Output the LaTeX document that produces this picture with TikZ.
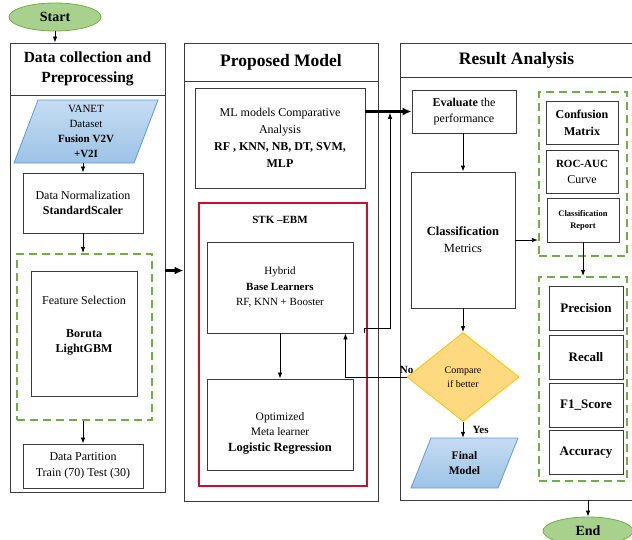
\documentclass[tikz,border=0pt]{standalone}
\usepackage{fontspec}
\setmainfont{Liberation Serif}
\usetikzlibrary{shapes.geometric,arrows.meta}

\definecolor{boxline}{HTML}{3A3A3A}
\definecolor{grnfill}{HTML}{A9D18E}
\definecolor{grnline}{HTML}{70AD47}
\definecolor{bluefill}{HTML}{9DC3E6}
\definecolor{bluelite}{HTML}{C5DCF2}
\definecolor{blueline}{HTML}{5B9BD5}
\definecolor{orgfill}{HTML}{FFD97F}
\definecolor{orgline}{HTML}{FFC000}
\definecolor{stkred}{HTML}{C8102E}

\begin{document}
\begin{tikzpicture}[x=1pt,y=-1pt,
    box/.style={draw=boxline,line width=0.9pt,align=center,inner sep=2pt},
    panel/.style={draw=boxline,line width=0.9pt,align=center},
    grp/.style={draw=grnline,line width=2.2pt,dash pattern=on 8pt off 5pt},
    oval/.style={ellipse,draw=grnline,fill=grnfill,line width=0.8pt,font=\fontsize{14}{16}\selectfont\bfseries},
    arr/.style={-{Latex[length=6pt,width=4.5pt]},line width=0.8pt},
    bigarr/.style={-{Latex[length=9pt,width=8pt]},line width=2.6pt},
    f12/.style={font=\fontsize{12}{15.5}\selectfont}]
                \useasboundingbox (0,0) rectangle (632,539);

                % 开始
                \node[oval,minimum width=92pt,minimum height=28pt] (start) at (55,17) {Start};

                % 第一列
                \node[panel,minimum width=155pt,minimum height=52pt,font=\fontsize{15.5}{20}\selectfont\bfseries] (colAt) at (87.5,69) {Data collection and\\Preprocessing};
                \node[panel,minimum width=155pt,minimum height=397pt] (colA) at (87.5,293.5) {};
                \shadedraw[top color=bluelite,bottom color=bluefill,draw=blueline,line width=0.8pt] (38,100) -- (158,100) -- (134,163) -- (14,163) -- cycle;
                \node[align=center,font=\fontsize{11}{15}\selectfont,minimum height=63pt] (data) at (86,131.5) {VANET\\Dataset\\\textbf{Fusion V2V}\\\textbf{+V2I}};
                \node[box,f12,minimum width=120pt,minimum height=60pt] (norm) at (83,203) {Data Normalization\\\textbf{StandardScaler}};
                \node[grp,minimum width=135pt,minimum height=166pt] (fsgrp) at (84.5,337) {};
                \node[box,minimum width=106pt,minimum height=125pt] (fs) at (84,333.5) {};
                \node[align=center,f12] (fstext) at (84,326) {Feature Selection\\[17pt]\textbf{Boruta}\\\textbf{LightGBM}};
                \node[box,f12,minimum width=120pt,minimum height=44pt] (part) at (83,466) {Data Partition\\Train (70) Test (30)};

                \draw[arr] (start.south) -- (start.south |- colAt.north);
                \draw[arr] (norm.north |- data.south) -- (norm.north);
                \draw[arr] (norm.south) -- (norm.south |- fsgrp.north);
                \draw[arr] (part.north |- fsgrp.south) -- (part.north);

                % 第二列
                \node[panel,minimum width=194pt,minimum height=38pt,font=\fontsize{17.5}{20}\selectfont\bfseries] (colBt) at (281,62) {Proposed Model};
                \node[panel,minimum width=194pt,minimum height=420pt] (colB) at (281,291) {};
                \node[box,font=\fontsize{12}{17}\selectfont,minimum width=170pt,minimum height=100pt] (ml) at (280,138) {ML models Comparative\\Analysis\\\textbf{RF , KNN, NB, DT, SVM,}\\\textbf{MLP}};
                \node[draw=stkred,line width=2pt,minimum width=168pt,minimum height=283pt] (stk) at (283,344.5) {};
                \node[font=\fontsize{11}{13}\selectfont\bfseries] (stkt) at (280,220) {STK --EBM};
                \node[box,font=\fontsize{11}{15.5}\selectfont,minimum width=146pt,minimum height=91pt] (base) at (280,287.5) {Hybrid\\\textbf{Base Learners}\\RF, KNN + Booster};
                \node[box,minimum width=146pt,minimum height=91pt] (meta) at (280,424.5) {};
                \node[align=center,font=\fontsize{11.5}{15.5}\selectfont] (metatext) at (280,433) {Optimized\\Meta learner\\\textbf{\fontsize{12.5}{15.5}\selectfont Logistic Regression}};

                \draw[bigarr] (fs.north -| colA.east) -- (fs.north -| colB.west);
                \draw[arr] (base.south) -- (meta.north);

                % 第三列
                \node[panel,minimum width=233pt,minimum height=34pt,font=\fontsize{17.5}{20}\selectfont\bfseries] (colCt) at (516.5,60) {Result Analysis};
                \node[panel,minimum width=233pt,minimum height=423pt] (colC) at (516.5,288.5) {};
                \node[box,f12,minimum width=104pt,minimum height=43pt] (eval) at (464,111.5) {\textbf{Evaluate} the\\performance};
                \node[box,font=\fontsize{12.5}{17}\selectfont,minimum width=104pt,minimum height=136pt] (cls) at (463,240) {\textbf{Classification}\\Metrics};

                \node[grp,minimum width=88pt,minimum height=164pt] (grp1) at (583,174) {};
                \node[box,font=\fontsize{12}{17}\selectfont\bfseries,minimum width=72pt,minimum height=43pt] (cm) at (582,122.5) {Confusion\\Matrix};
                \node[box,font=\fontsize{12}{16}\selectfont,minimum width=72pt,minimum height=43pt] (roc) at (582,171.5) {{\fontsize{11}{16}\selectfont\textbf{ROC-AUC}}\\Curve};
                \node[box,font=\fontsize{8.5}{12}\selectfont\bfseries,minimum width=72pt,minimum height=44pt] (rep) at (583,220) {Classification\\Report};

                \node[grp,minimum width=88pt,minimum height=204pt] (grp2) at (583,379) {};
                \foreach \y/\name/\txt in {308/prec/Precision, 357/rec/Recall, 405/fone/F1\_Score, 452.5/acc/Accuracy}
                    \node[box,font=\fontsize{13}{15}\selectfont\bfseries,minimum width=74pt,minimum height=44pt] (\name) at (586,\y) {\txt};

                \node[diamond,draw=orgline,fill=orgfill,line width=0.8pt,inner sep=0pt,minimum width=112pt,minimum height=89pt,align=center,font=\fontsize{10}{14}\selectfont] (cmp) at (463,377) {Compare\\if better};
                \shadedraw[top color=bluelite,bottom color=bluefill,draw=blueline,line width=0.8pt] (431,438) -- (518,438) -- (498,488) -- (411,488) -- cycle;
                \node[align=center,font=\fontsize{11.5}{15}\selectfont\bfseries,minimum height=50pt] (final) at (464.5,463) {Final\\Model};

                % 结束
                \node[oval,minimum width=90pt,minimum height=28pt] (end) at (588,531) {End};

                % 连线
                \coordinate (stkout) at (364,333);
                \coordinate (merge) at (390,328);
                \draw[bigarr] (ml.east |- eval.west) -- (eval.west);
                \draw[arr,shorten >=1.3pt] (stkout) -- (stkout |- merge) -- (merge) -- (merge |- eval.west);
                \draw[arr] (cls.north |- eval.south) -- (cls.north);
                \draw[arr] (cls.east) -- (cls.east -| grp1.west);
                \draw[arr] (rep.south) -- (rep.south |- grp2.north);
                \draw[arr] (cls.south) -- (cmp.north);
                \draw[arr] (cmp.south) -- node[right,xshift=6pt,font=\fontsize{11}{13}\selectfont\bfseries] {Yes} (cmp.south |- final.north);
                \draw[arr] (cmp.west) node[above,font=\fontsize{11}{13}\selectfont\bfseries] {No} -| ([xshift=-8pt]base.south east);
                \draw[arr] (end.north |- colC.south) -- (end.north);
            \end{tikzpicture}
\end{document}
